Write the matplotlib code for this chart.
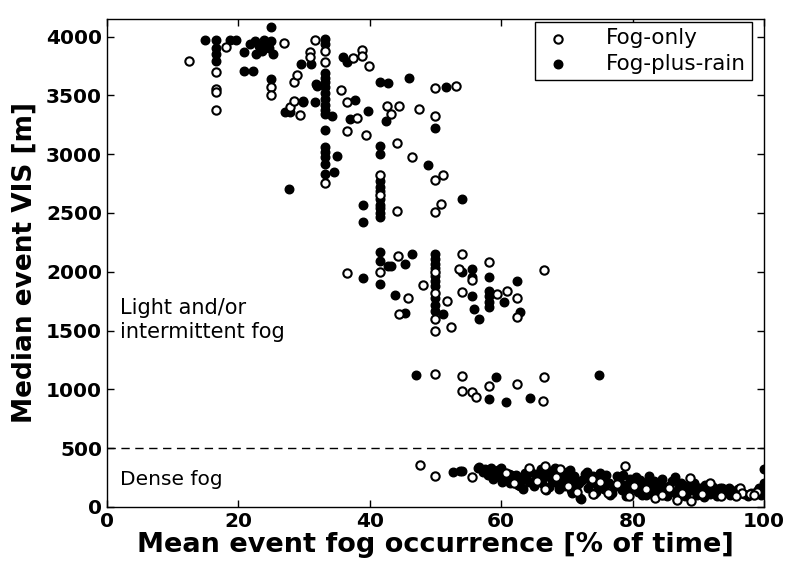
import numpy as np
import matplotlib.pyplot as plt

plt.rcParams['font.family'] = ['DejaVu Sans']

# Fog-only events (open circles): mean fog occurrence [%], median VIS [m]
fog_x = [12.5, 16.6, 16.6, 16.6, 16.6, 18.2, 27.0, 25.0, 25.0, 27.8, 28.4, 28.5, 29.0, 29.4,
         31.6, 30.9, 30.9, 33.2, 33.2, 33.2, 37.4, 38.8, 38.8, 39.9, 35.7, 36.5, 38.1, 36.6,
         39.4, 42.7, 43.2, 44.5, 47.5, 49.9, 53.1, 49.9, 44.2, 46.5, 49.9, 51.2, 49.9, 50.8,
         41.6, 41.6, 44.2,
         41.6, 36.6, 44.3, 45.8, 44.4, 49.9, 49.9, 49.9, 49.9, 48.1, 51.7, 52.3, 54.0, 53.6,
         55.5, 54.0, 58.1, 59.3, 60.9, 62.4, 62.4, 66.5,
         50.0, 54.0, 54.0, 55.5, 56.2, 58.1, 62.4, 66.5, 66.4,
         47.6, 49.9, 55.5, 60.8, 66.7, 66.7, 68.4, 71.5, 73.8, 76.3, 77.6, 78.9, 83.4, 86.8,
         88.8, 88.9, 87.5, 91.8, 96.3, 96.6, 97.8, 95.8, 65.5, 70.2, 75.0, 80.2, 82.0, 84.5,
         85.5, 90.5, 93.5, 79.5, 74.0, 62.0, 64.2, 69.0, 99.0, 98.5]
fog_y = [3790, 3696, 3555, 3526, 3376, 3909, 3943, 3570, 3506, 3400, 3455, 3611, 3674, 3333,
         3974, 3866, 3830, 3881, 3781, 2754, 3818, 3887, 3838, 3753, 3549, 3441, 3308, 3200,
         3165, 3413, 3342, 3407, 3386, 3563, 3583, 3327, 3095, 2978, 2783, 2823, 2505, 2576,
         2825, 2653, 2519,
         1994, 1986, 2130, 1781, 1640, 1597, 1498, 2000, 1820, 1887, 1753, 1532, 2150, 2020,
         1932, 1824, 2080, 1810, 1838, 1773, 1617, 2014,
         1134, 1115, 987, 973, 936, 1024, 1044, 1109, 902,
         360, 264, 250, 292, 349, 153, 250, 128, 236, 122, 193, 349, 79, 60,
         245, 50, 116, 202, 164, 122, 108, 94, 220, 180, 210, 180, 150, 100,
         160, 110, 95, 90, 110, 200, 330, 320, 130, 100]

# Fog-plus-rain events (filled circles)
rain_x = [15.0, 16.6, 16.6, 16.6, 16.6, 18.7, 19.7, 20.9, 20.9, 22.2, 21.8, 22.5, 23.2, 23.6,
          24.2, 24.6, 22.7, 24.9, 23.9, 25.0, 25.0, 25.3, 27.1, 27.8, 29.8, 31.6, 29.6, 31.0,
          31.9, 27.7,
          33.2, 33.2, 33.2, 33.2, 33.2, 33.2, 33.2, 33.2, 33.2, 33.2, 33.2, 33.2, 33.2, 33.2,
          33.2, 33.2, 33.2,
          31.8, 29.9, 34.2, 35.0, 34.5, 35.9, 36.5, 37.7, 37.0, 39.8, 41.6, 42.8, 46.0, 51.6,
          49.9, 48.9, 54.0, 42.5,
          41.6, 41.6, 41.6, 41.6, 41.6, 41.6, 41.6, 41.6, 41.6, 41.6, 38.9, 38.9,
          41.6, 41.6, 41.6, 38.9, 42.8, 43.3, 45.3, 46.5, 43.9, 45.4,
          49.9, 49.9, 49.9, 49.9, 49.9, 49.9, 49.9, 49.9, 49.9, 49.9,
          51.2, 54.0, 55.5, 55.5, 55.5, 55.8, 56.7, 58.1, 58.1, 58.1, 58.1, 58.1, 60.4, 62.4,
          62.9,
          47.1, 59.2, 58.1, 60.8, 64.4, 74.9,
          54.0, 52.7, 53.7, 56.5, 56.7, 57.2, 57.6, 58.0, 58.3, 58.8, 59.1, 59.5, 59.8, 60.2,
          60.5, 61.0, 61.3, 61.8, 62.2, 62.5, 63.0, 63.4, 63.8, 64.2, 64.6, 65.0, 65.3, 65.8,
          66.2, 66.6, 67.0, 67.3, 67.7, 68.0, 68.5, 68.8, 69.2, 69.6, 70.0, 70.3, 70.7, 71.1,
          71.5, 72.0, 72.1, 72.3, 72.8, 73.2, 73.6, 74.0, 74.5, 74.8, 75.2, 75.6, 76.0, 76.4,
          76.8, 77.2, 77.6, 78.0, 78.4, 78.8, 79.2, 79.6, 80.0, 80.4, 80.8, 81.2, 81.6, 82.0,
          82.4, 82.8, 83.2, 83.6, 84.0, 84.4, 84.8, 85.2, 85.6, 86.0, 86.4, 86.7, 87.0, 87.4,
          87.8, 88.2, 88.6, 89.0, 89.4, 89.8, 90.2, 90.6, 91.0, 91.4, 91.8, 92.2, 92.6, 93.0,
          93.3, 93.8, 94.2, 94.6, 95.0, 95.5, 96.0, 97.0, 98.0, 98.9, 99.3, 100.0, 100.0, 100.0,
          100.0, 64.0, 66.0, 68.2, 70.5, 73.0, 75.0, 78.5, 80.5, 82.5, 84.5, 86.5, 58.5, 60.0,
          61.5, 63.2, 65.5, 67.5, 69.4, 71.8, 73.4, 75.8, 77.8, 79.8, 81.8, 83.8, 85.8, 87.6,
          89.6, 91.6, 93.6, 95.3, 62.8, 66.8, 70.8, 74.2, 76.6, 79.0, 81.4, 83.4, 85.0, 88.0,
          90.8, 92.8, 94.8, 97.5, 99.6, 59.4, 61.2, 63.6, 65.6, 67.6, 69.8, 71.4]
rain_y = [3972, 3972, 3900, 3850, 3790, 3972, 3972, 3866, 3710, 3710, 3940, 3960, 3920, 3880,
          3950, 3900, 3850, 3960, 3970, 4085, 3640, 3850, 3355, 3355, 3447, 3441, 3767, 3767,
          3583, 2704,
          3983, 3940, 3690, 3650, 3610, 3570, 3520, 3470, 3420, 3380, 3345, 3208, 3058, 3020,
          2980, 2920, 2831,
          3597, 3455, 3327, 2987, 2845, 3830, 3781, 3464, 3299, 3364, 3611, 3606, 3648, 3575,
          3219, 2910, 2619, 3279,
          3072, 3004, 2774, 2720, 2690, 2620, 2570, 2540, 2500, 2462, 2570, 2420,
          2165, 2094, 1900, 1943, 2045, 2045, 2065, 2150, 1804, 1648,
          2150, 2110, 2070, 2030, 1960, 1920, 1880, 1780, 1720, 1668,
          1640, 2000, 2023, 1957, 1796, 1683, 1597, 1952, 1838, 1790, 1740, 1696, 1745, 1923,
          1654,
          1123, 1101, 916, 895, 925, 1123,
          306, 298, 306, 334, 340, 300, 320, 270, 300, 240, 280, 310, 250, 210,
          290, 240, 200, 236, 270, 190, 230, 156, 260, 210, 300, 180, 240, 290,
          200, 260, 310, 170, 230, 290, 200, 150, 260, 180, 300, 220, 140, 260,
          190, 79, 65, 230, 280, 160, 200, 260, 130, 180, 230, 150, 270, 200,
          120, 170, 264, 220, 140, 190, 110, 240, 160, 200, 130, 230, 170, 100,
          190, 140, 220, 170, 120, 200, 150, 90, 180, 220, 130, 65, 170, 200,
          150, 110, 180, 140, 200, 100, 160, 130, 190, 150, 110, 170, 140, 120,
          164, 150, 130, 164, 140, 120, 150, 110, 120, 136, 160, 326, 207, 150,
          120, 280, 320, 330, 310, 300, 290, 270, 250, 260, 240, 250, 330, 330,
          270, 250, 210, 250, 230, 200, 240, 190, 200, 180, 200, 180, 130, 190,
          170, 130, 160, 130, 180, 140, 120, 110, 100, 90, 100, 80, 110, 90,
          80, 90, 100, 90, 100, 260, 280, 290, 270, 270, 240, 210]

fig, ax = plt.subplots(figsize=(7.86, 5.76), dpi=100)
fig.subplots_adjust(left=0.136, right=0.972, bottom=0.120, top=0.967)

ax.scatter(rain_x, rain_y, s=38, facecolor='black', edgecolor='black', linewidths=1.0,
           label='Fog-plus-rain', zorder=2)
ax.scatter(fog_x, fog_y, s=36, facecolor='white', edgecolor='black', linewidths=1.5,
           label='Fog-only', zorder=3)

ax.axhline(500, color='black', linestyle='--', linewidth=1.0, dashes=(6, 4), zorder=1)

ax.text(2, 1590, 'Light and/or\nintermittent fog', fontsize=15, va='center', ha='left',
        linespacing=1.25)
ax.text(2, 235, 'Dense fog', fontsize=14.5, va='center', ha='left')

ax.set_xlim(0, 100)
ax.set_ylim(0, 4150)
ax.set_xticks(np.arange(0, 101, 20))
ax.set_yticks(np.arange(0, 4001, 500))
ax.tick_params(direction='in', top=True, right=True, labelsize=14.5, length=5, width=1)
for lbl in ax.get_xticklabels() + ax.get_yticklabels():
    lbl.set_fontweight('bold')

ax.set_xlabel('Mean event fog occurrence [% of time]', fontsize=19.5, fontweight='bold', labelpad=1)
ax.set_ylabel('Median event VIS [m]', fontsize=19, fontweight='bold', labelpad=6)

handles, labels = ax.get_legend_handles_labels()
leg = ax.legend(handles[::-1], labels[::-1], loc='upper right', fontsize=15.5, fancybox=False,
                edgecolor='black', framealpha=1, borderpad=0.3, labelspacing=0.25,
                handlelength=1.6, handletextpad=1.4, borderaxespad=0,
                bbox_to_anchor=(0.982, 0.994))
leg.get_frame().set_linewidth(1.0)

for sp in ax.spines.values():
    sp.set_linewidth(1.0)

plt.savefig('out.png', dpi=100)
